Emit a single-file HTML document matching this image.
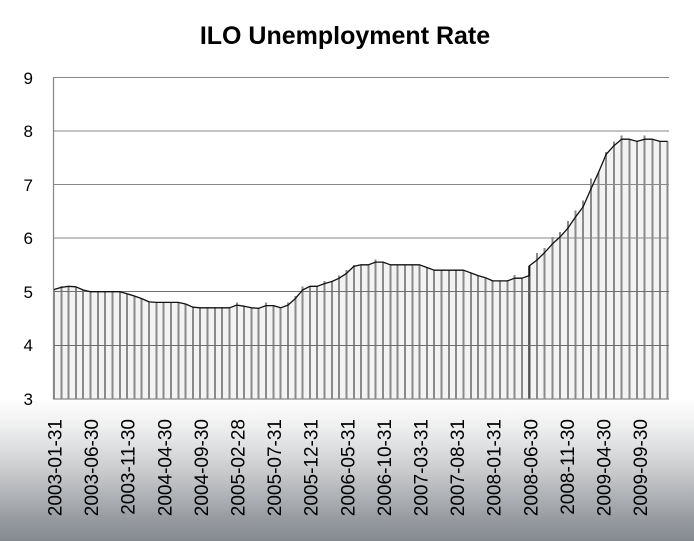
<!DOCTYPE html>
<html>
<head>
<meta charset="utf-8">
<style>
  html, body { margin:0; padding:0; }
  body {
    width:694px; height:541px; overflow:hidden;
    background: linear-gradient(to bottom, #ffffff 0px, #ffffff 398px, #f6f6f6 415px, #e4e5e6 440px, #cfd0d2 465px, #b3b6b9 492px, #989ca1 518px, #858a90 541px);
    font-family: "Liberation Sans", sans-serif;
  }
  svg { display:block; }
</style>
</head>
<body>
<svg width="694" height="541" viewBox="0 0 694 541" xmlns="http://www.w3.org/2000/svg">
  <!-- Title -->
  <text x="345" y="44" text-anchor="middle" font-family="Liberation Sans, sans-serif" font-weight="bold" font-size="25" fill="#000">ILO Unemployment Rate</text>

  <!-- plot background -->
  <rect x="53" y="77" width="616" height="322" fill="#ffffff"/>

  <!-- area under line -->
  <polygon fill="#f3f3f3" points="54,399 54,289.5 61.3,287.4 68.6,286.3 75.9,286.8 83.2,290.0 90.6,291.7 97.9,291.7 105.2,291.7 112.5,291.7 119.8,291.7 127.1,293.8 134.4,296.0 141.7,298.6 149.1,301.9 156.4,302.4 163.7,302.4 171.0,302.4 178.3,302.4 185.6,304.0 192.9,307.2 200.2,307.8 207.6,307.8 214.9,307.8 222.2,307.8 229.5,307.8 236.8,305.1 244.1,306.2 251.4,307.8 258.7,308.3 266.0,305.6 273.4,305.6 280.7,307.8 288.0,305.1 295.3,298.6 302.6,290.0 309.9,286.3 317.2,286.3 324.5,283.6 331.9,281.5 339.2,278.2 346.5,273.4 353.8,266.4 361.1,264.8 368.4,264.8 375.7,262.1 383.0,262.1 390.4,264.8 397.7,264.8 405.0,264.8 412.3,264.8 419.6,264.8 426.9,267.5 434.2,270.2 441.5,270.2 448.8,270.2 456.2,270.2 463.5,270.2 470.8,272.9 478.1,275.6 485.4,277.7 492.7,280.9 500.0,280.9 507.3,280.9 514.7,278.2 522.0,278.2 529.3,275.6 529.3,265.9 537.0,260.0 544.7,252.5 552.4,243.9 560.1,236.9 567.8,228.3 575.4,217.1 583.1,206.9 590.8,189.2 598.5,172.5 606.2,154.3 613.9,145.7 621.6,139.2 629.3,139.2 637.0,141.4 644.7,139.2 652.3,139.2 660.0,141.4 667.7,141.4 667.7,399"/>

  <!-- gridlines -->
  <g stroke="#878787" stroke-width="1" fill="none" shape-rendering="crispEdges">
    <line x1="53" y1="77.5" x2="669" y2="77.5"/>
    <line x1="53" y1="131" x2="669" y2="131"/>
    <line x1="53" y1="184.5" x2="669" y2="184.5"/>
    <line x1="53" y1="238" x2="669" y2="238"/>
  </g>

  <!-- bars -->
  <path stroke="#8a8a8a" stroke-width="2" fill="none" shape-rendering="crispEdges" d="
M54,399V289.5 M61.3,399V285.8 M68.6,399V286.3 M75.9,399V286.8 M83.2,399V290.0 M90.6,399V291.7 M97.9,399V291.7 M105.2,399V291.7 M112.5,399V291.7 M119.8,399V291.7
M127.1,399V293.8 M134.4,399V296.0 M141.7,399V298.6 M149.1,399V301.9 M156.4,399V302.4 M163.7,399V302.4 M171.0,399V302.4 M178.3,399V302.4 M185.6,399V304.0 M192.9,399V307.2
M200.2,399V307.8 M207.6,399V307.8 M214.9,399V307.8 M222.2,399V307.8 M229.5,399V307.8 M236.8,399V302.4 M244.1,399V306.2 M251.4,399V307.8 M258.7,399V308.3 M266.0,399V302.4
M273.4,399V305.6 M280.7,399V307.8 M288.0,399V302.4 M295.3,399V296.0 M302.6,399V286.3 M309.9,399V286.3 M317.2,399V286.3 M324.5,399V280.9 M331.9,399V281.5 M339.2,399V275.6
M346.5,399V270.2 M353.8,399V264.8 M361.1,399V264.8 M368.4,399V264.8 M375.7,399V259.5 M383.0,399V262.1 M390.4,399V264.8 M397.7,399V264.8 M405.0,399V264.8 M412.3,399V264.8
M419.6,399V264.8 M426.9,399V267.5 M434.2,399V270.2 M441.5,399V270.2 M448.8,399V270.2 M456.2,399V270.2 M463.5,399V270.2 M470.8,399V272.9 M478.1,399V275.6 M485.4,399V277.7
M492.7,399V280.9 M500.0,399V280.9 M507.3,399V280.9 M514.7,399V275.0 M522.0,399V278.2
M537.0,399V253.0 M544.7,399V248.2 M552.4,399V236.9 M560.1,399V232.1 M567.8,399V220.8 M575.4,399V210.6 M583.1,399V200.4 M590.8,399V178.4 M598.5,399V172.5 M606.2,399V152.1
M613.9,399V141.4 M621.6,399V135.5 M629.3,399V139.2 M637.0,399V141.4 M644.7,399V135.5 M652.3,399V139.2 M660.0,399V141.4 M667.7,399V141.4"/>
  <!-- dark bar at 2008-06 -->
  <line x1="529.3" y1="399" x2="529.3" y2="265.9" stroke="#555" stroke-width="2.4"/>

  <!-- gridlines crossing bars -->
  <g stroke="#6f6f6f" stroke-width="1" fill="none" shape-rendering="crispEdges">
    <line x1="53" y1="291.7" x2="669" y2="291.7"/>
    <line x1="53" y1="345.3" x2="669" y2="345.3"/>
  </g>

  <!-- axes -->
  <line x1="53.5" y1="77" x2="53.5" y2="399" stroke="#878787" stroke-width="1.2"/>
  <line x1="53" y1="399" x2="669" y2="399" stroke="#878787" stroke-width="1.2"/>

  <!-- line -->
  <polyline fill="none" stroke="#111" stroke-width="1.3" stroke-linejoin="round" points="54,289.5 61.3,287.4 68.6,286.3 75.9,286.8 83.2,290.0 90.6,291.7 97.9,291.7 105.2,291.7 112.5,291.7 119.8,291.7 127.1,293.8 134.4,296.0 141.7,298.6 149.1,301.9 156.4,302.4 163.7,302.4 171.0,302.4 178.3,302.4 185.6,304.0 192.9,307.2 200.2,307.8 207.6,307.8 214.9,307.8 222.2,307.8 229.5,307.8 236.8,305.1 244.1,306.2 251.4,307.8 258.7,308.3 266.0,305.6 273.4,305.6 280.7,307.8 288.0,305.1 295.3,298.6 302.6,290.0 309.9,286.3 317.2,286.3 324.5,283.6 331.9,281.5 339.2,278.2 346.5,273.4 353.8,266.4 361.1,264.8 368.4,264.8 375.7,262.1 383.0,262.1 390.4,264.8 397.7,264.8 405.0,264.8 412.3,264.8 419.6,264.8 426.9,267.5 434.2,270.2 441.5,270.2 448.8,270.2 456.2,270.2 463.5,270.2 470.8,272.9 478.1,275.6 485.4,277.7 492.7,280.9 500.0,280.9 507.3,280.9 514.7,278.2 522.0,278.2 529.3,275.6 529.3,265.9 537.0,260.0 544.7,252.5 552.4,243.9 560.1,236.9 567.8,228.3 575.4,217.1 583.1,206.9 590.8,189.2 598.5,172.5 606.2,154.3 613.9,145.7 621.6,139.2 629.3,139.2 637.0,141.4 644.7,139.2 652.3,139.2 660.0,141.4 667.7,141.4"/>

  <!-- Y labels -->
  <g font-family="Liberation Sans, sans-serif" font-size="17" fill="#000" text-anchor="end">
    <text x="33" y="84">9</text>
    <text x="33" y="137">8</text>
    <text x="33" y="191">7</text>
    <text x="33" y="244">6</text>
    <text x="33" y="298">5</text>
    <text x="33" y="351">4</text>
    <text x="33" y="405">3</text>
  </g>

  <!-- X labels -->
  <g font-family="Liberation Sans, sans-serif" font-size="19" fill="#000" text-anchor="end">
    <text transform="translate(61.5,419) rotate(-90)">2003-01-31</text>
    <text transform="translate(98.1,419) rotate(-90)">2003-06-30</text>
    <text transform="translate(134.7,419) rotate(-90)">2003-11-30</text>
    <text transform="translate(171.3,419) rotate(-90)">2004-04-30</text>
    <text transform="translate(207.9,419) rotate(-90)">2004-09-30</text>
    <text transform="translate(244.5,419) rotate(-90)">2005-02-28</text>
    <text transform="translate(281.1,419) rotate(-90)">2005-07-31</text>
    <text transform="translate(317.7,419) rotate(-90)">2005-12-31</text>
    <text transform="translate(354.3,419) rotate(-90)">2006-05-31</text>
    <text transform="translate(390.9,419) rotate(-90)">2006-10-31</text>
    <text transform="translate(427.5,419) rotate(-90)">2007-03-31</text>
    <text transform="translate(464.1,419) rotate(-90)">2007-08-31</text>
    <text transform="translate(500.7,419) rotate(-90)">2008-01-31</text>
    <text transform="translate(537.3,419) rotate(-90)">2008-06-30</text>
    <text transform="translate(573.9,419) rotate(-90)">2008-11-30</text>
    <text transform="translate(610.5,419) rotate(-90)">2009-04-30</text>
    <text transform="translate(647.1,419) rotate(-90)">2009-09-30</text>
  </g>
</svg>
</body>
</html>
